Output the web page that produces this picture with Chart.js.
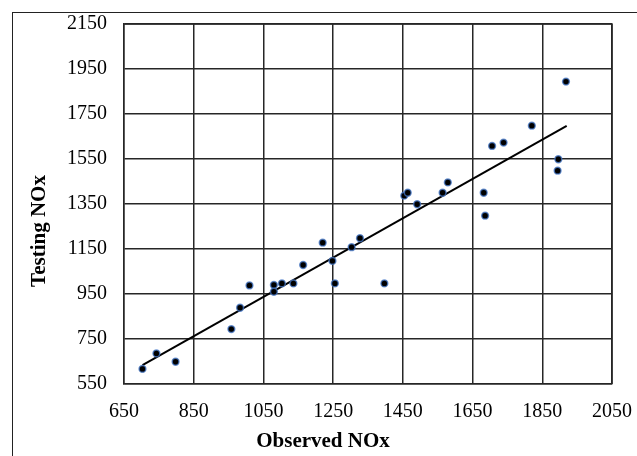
<!DOCTYPE html>
<html>
<head>
<meta charset="utf-8">
<script src="https://cdn.jsdelivr.net/npm/chart.js@4/dist/chart.umd.min.js"></script>
<style>
  html, body { margin: 0; padding: 0; background: #fff; overflow: hidden; }
  #wrap { position: relative; width: 637px; height: 456px; }
  #frame { position: absolute; left: 12px; top: 12px; width: 700px; height: 500px; border: 1.5px solid #222; box-sizing: border-box; }
  canvas { position: absolute; left: 0; top: 0; }
</style>
</head>
<body>
<div id="wrap">
  <div id="frame"></div>
  <canvas id="chart" width="637" height="456"></canvas>
</div>
<script>
// observed vs testing NOx
const observed = [703, 743, 798, 958, 983, 1010, 1080, 1080, 1103, 1136, 1164, 1220, 1248, 1255, 1303,
  1327, 1397, 1454, 1464, 1491, 1564, 1579, 1682, 1686, 1706, 1739, 1820, 1918, 1896, 1894];
const testing = [617, 686, 649, 794, 889, 988, 990, 960, 997, 997, 1079, 1178, 1097, 997, 1158,
  1198, 997, 1387, 1400, 1349, 1400, 1446, 1400, 1298, 1608, 1623, 1698, 1894, 1549, 1498];

// trend line end points
const trendX = [703, 1920];
const trendY = [634, 1697];

const xTicks = [650, 850, 1050, 1250, 1450, 1650, 1850, 2050];
const yTicks = [550, 750, 950, 1150, 1350, 1550, 1750, 1950, 2150];

const xTitle = 'Observed NOx';
const yTitle = 'Testing NOx';

const FONT = '"Liberation Serif", "Times New Roman", serif';
const GRID = '#262626';

// axis titles drawn by hand so they sit where the original has them
const titlePlugin = {
  id: 'axisTitles',
  afterDraw(chart) {
    const ctx = chart.ctx;
    ctx.save();
    ctx.fillStyle = '#000';
    ctx.font = 'bold 21px ' + FONT;
    ctx.textAlign = 'center';
    ctx.textBaseline = 'middle';
    ctx.fillText(xTitle, 323, 442);
    ctx.translate(40, 231);
    ctx.rotate(-Math.PI / 2);
    ctx.fillText(yTitle, 0, 0);
    ctx.restore();
  }
};

const ctx = document.getElementById('chart').getContext('2d');
new Chart(ctx, {
  type: 'scatter',
  data: {
    datasets: [
      {
        type: 'line',
        data: trendX.map((x, i) => ({ x: x, y: trendY[i] })),
        borderColor: '#000',
        borderWidth: 2,
        pointRadius: 0,
        fill: false,
        order: 2
      },
      {
        data: observed.map((x, i) => ({ x: x, y: testing[i] })),
        backgroundColor: '#000',
        borderColor: 'rgba(70, 120, 200, 0.75)',
        borderWidth: 1.5,
        pointRadius: 3.4,
        order: 1
      }
    ]
  },
  options: {
    responsive: false,
    animation: false,
    layout: { padding: { left: 0, top: 24, right: 25, bottom: 0 } },
    plugins: {
      legend: { display: false },
      tooltip: { enabled: false }
    },
    scales: {
      x: {
        type: 'linear',
        min: 650,
        max: 2050,
        afterBuildTicks: axis => { axis.ticks = xTicks.map(v => ({ value: v })); },
        afterFit: axis => {
          axis.height = 72;
          axis.paddingLeft = 0;
          axis.paddingRight = 0;
        },
        grid: { color: GRID, lineWidth: 1.5, drawTicks: false },
        border: { color: GRID, width: 1.5 },
        ticks: {
          padding: 16,
          color: '#000',
          font: { family: FONT, size: 20 },
          maxRotation: 0,
          callback: v => String(v)
        }
      },
      y: {
        type: 'linear',
        min: 550,
        max: 2150,
        afterBuildTicks: axis => { axis.ticks = yTicks.map(v => ({ value: v })); },
        afterFit: axis => {
          axis.width = 124;
          axis.paddingTop = 0;
          axis.paddingBottom = 0;
        },
        grid: { color: GRID, lineWidth: 1.5, drawTicks: false },
        border: { color: GRID, width: 1.5 },
        ticks: {
          padding: 17,
          color: '#000',
          font: { family: FONT, size: 20 },
          callback: v => String(v)
        }
      }
    }
  },
  plugins: [titlePlugin, {
    id: 'frameRight',
    afterDraw(chart) {
      // closing lines on the top and right of the plot area
      const a = chart.chartArea, c = chart.ctx;
      c.save();
      c.strokeStyle = GRID;
      c.lineWidth = 1.5;
      c.beginPath();
      c.moveTo(a.left, a.top);
      c.lineTo(a.right, a.top);
      c.lineTo(a.right, a.bottom);
      c.stroke();
      c.restore();
    }
  }]
});
</script>
</body>
</html>
